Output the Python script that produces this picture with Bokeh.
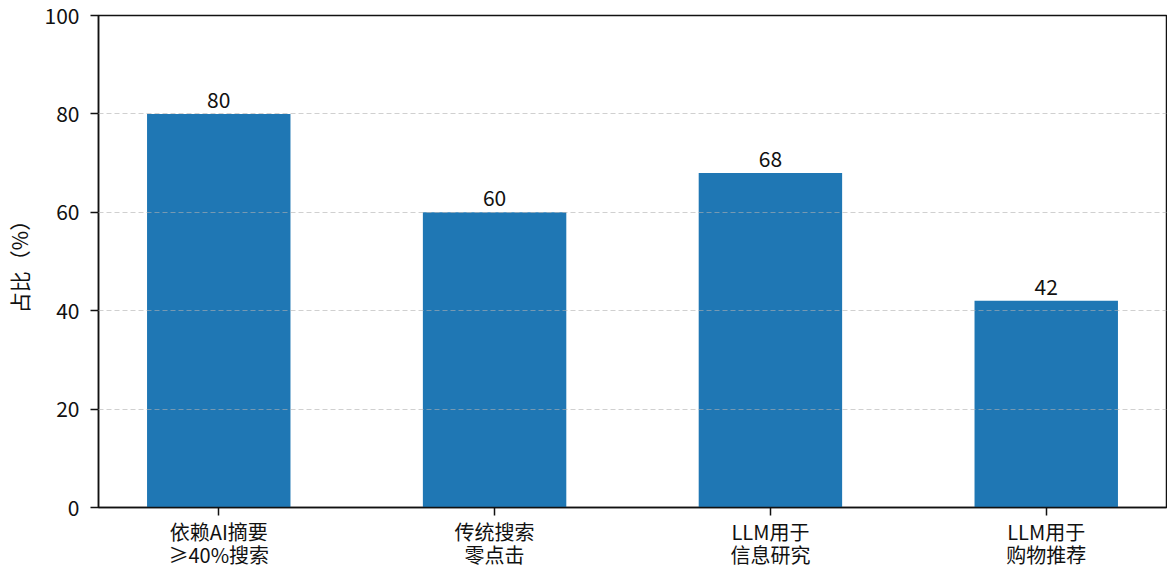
from bokeh.plotting import figure
from bokeh.models import ColumnDataSource, FixedTicker, Range1d, LabelSet
from bokeh.core.properties import value
from bokeh.embed import file_html
from bokeh.resources import INLINE

# Survey shares of search / LLM usage behaviours (%)
categories = ["依赖AI摘要\n≥40%搜索", "传统搜索\n零点击", "LLM用于\n信息研究", "LLM用于\n购物推荐"]
shares = [80, 60, 68, 42]
y_ticks = [0, 20, 40, 60, 80, 100]

FONT = "Noto Sans CJK SC"
BAR_WIDTH = 0.52
positions = list(range(len(categories)))

source = ColumnDataSource(dict(
    x=positions,
    top=shares,
    label=[str(v) for v in shares],
))

p = figure(
    width=1167, height=571,
    x_range=Range1d(-0.436, len(categories) - 1 + 0.436),
    y_range=Range1d(0, 100),
    output_backend="svg", toolbar_location=None,
    min_border_left=97, min_border_right=1, min_border_top=15, min_border_bottom=64,
)

p.vbar(x="x", top="top", width=BAR_WIDTH, source=source,
       fill_color="#1f77b4", line_color=None)

labels = LabelSet(x="x", y="top", text="label", source=source,
                  text_align="center", text_baseline="alphabetic", y_offset=6,
                  text_font=value(FONT), text_font_size="21px", text_color="#111111")
p.add_layout(labels)

# x axis: one tick per category with two-line labels
p.xaxis.ticker = FixedTicker(ticks=positions)
p.xaxis.major_label_overrides = {i: c for i, c in enumerate(categories)}
p.yaxis.ticker = FixedTicker(ticks=y_ticks)
p.yaxis.axis_label = "占比（%）"

for ax in (p.xaxis, p.yaxis):
    ax.axis_line_width = 1.5
    ax.axis_line_color = "#111111"
    ax.major_tick_line_color = "#111111"
    ax.major_tick_line_width = 1.5
    ax.major_tick_in = 0
    ax.major_tick_out = 8
    ax.minor_tick_line_color = None
    ax.major_label_text_font = FONT
    ax.major_label_text_color = "#111111"

p.xaxis.major_label_text_font_size = "20px"
p.yaxis.major_label_text_font_size = "21px"
p.xaxis.major_label_text_line_height = 0.8
p.yaxis.major_label_standoff = 11
p.xaxis.major_label_standoff = 1
p.yaxis.axis_label_text_font = FONT
p.yaxis.axis_label_text_font_size = "21px"
p.yaxis.axis_label_text_font_style = "normal"
p.yaxis.axis_label_text_color = "#111111"
p.yaxis.axis_label_standoff = 8

p.xgrid.grid_line_color = None
p.ygrid.ticker = FixedTicker(ticks=[20, 40, 60, 80])
p.ygrid.grid_line_color = "#b0b0b0"
p.ygrid.grid_line_alpha = 0.6
p.ygrid.grid_line_dash = "5 3"
p.ygrid.grid_line_width = 1
p.ygrid.level = "overlay"

p.outline_line_color = "#111111"
p.outline_line_width = 1.5
p.background_fill_color = "white"
p.border_fill_color = "white"

open("out.html", "w").write(file_html(p, INLINE))
